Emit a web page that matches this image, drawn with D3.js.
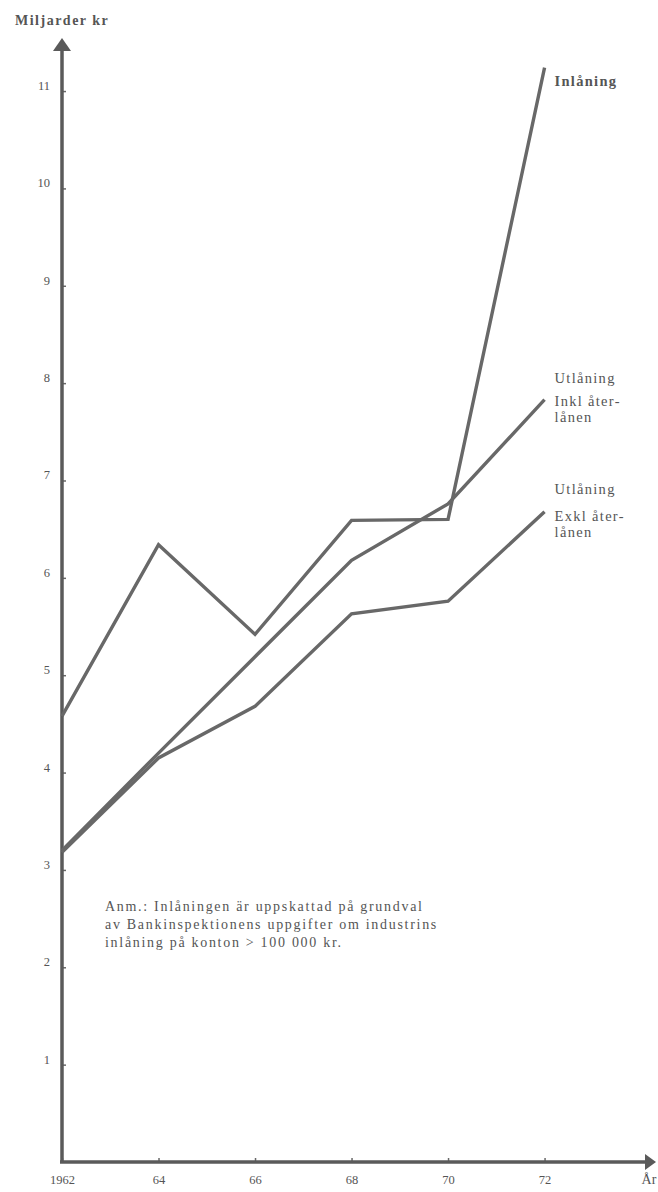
<!DOCTYPE html>
<head>
  <meta charset="utf-8">
  <script src="https://d3js.org/d3.v7.min.js"></script>
  <style>
    body { margin: 0; background: #fff; }
    svg { width: 658px; height: 1192px; display: block; }
    text { font-family: 'Liberation Serif', 'DejaVu Serif', serif; fill: #555; }
  </style>
</head>

<body>
  <svg></svg>
  <script>
    // data (miljarder kr)
    var years = [1962, 1964, 1966, 1968, 1970, 1972];
    var inlaning = [4.58, 6.34, 5.42, 6.59, 6.60, 11.24];
    var utlaningInkl = [3.20, 4.20, 5.19, 6.18, 6.76, 7.83];
    var utlaningExkl = [3.18, 4.15, 4.68, 5.63, 5.76, 6.68];
    var yTicks = [1, 2, 3, 4, 5, 6, 7, 8, 9, 10, 11];
    var xTicks = [1962, 1964, 1966, 1968, 1970, 1972];
    var seriesLabels = [
      ['Inlåning'],
      ['Utlåning', 'Inkl åter-', 'lånen'],
      ['Utlåning', 'Exkl åter-', 'lånen']
    ];
    var note = [
      'Anm.: Inlåningen är uppskattad på grundval',
      'av Bankinspektionens uppgifter om industrins',
      'inlåning på konton > 100 000 kr.'
    ];

    var margin = {top: 38, left: 62, right: 1, bottom: 30};
    var width = 658 - margin.left - margin.right;
    var height = 1192 - margin.top - margin.bottom;
    var ink = '#686868';

    var svg = d3.select('svg')
      .append('g')
      .attr('transform', 'translate(' + [margin.left, margin.top] + ')');

    var x = d3.scaleLinear().domain([1962, 1974.33]).range([0, width]);
    var y = d3.scaleLinear().domain([0, 11.545]).range([height, 0]);

    // axes
    var yAxis = svg.append('g')
      .call(d3.axisLeft(y).tickValues(yTicks).tickSize(-4).tickPadding(12));
    yAxis.selectAll('text').attr('dy', '-0.12em').style('font-size', '12.5px');

    var xAxis = svg.append('g')
      .attr('transform', 'translate(0,' + height + ')')
      .call(d3.axisBottom(x).tickValues(xTicks).tickSize(-4).tickPadding(13)
        .tickFormat(function(d) { return d === 1962 ? '1962' : String(d).slice(2); }));
    xAxis.selectAll('text').style('font-size', '12.5px');

    svg.selectAll('.domain').remove();
    svg.selectAll('.tick line').attr('stroke', ink).attr('stroke-width', 1.5);

    svg.append('line')
      .attr('x1', 0).attr('y1', height).attr('x2', 0).attr('y2', 10)
      .attr('stroke', '#5a5a5a').attr('stroke-width', 3.5);
    svg.append('path')
      .attr('d', 'M-9,13L0,0L9,13Z')
      .attr('fill', '#5a5a5a');
    svg.append('line')
      .attr('x1', -2).attr('y1', height).attr('x2', width - 10).attr('y2', height)
      .attr('stroke', '#5a5a5a').attr('stroke-width', 3.5);
    svg.append('path')
      .attr('d', 'M' + (width - 12) + ',' + (height - 8) + 'L' + (width - 1) + ',' + height +
        'L' + (width - 12) + ',' + (height + 8) + 'Z')
      .attr('fill', '#5a5a5a');

    svg.append('text')
      .attr('x', -47).attr('y', -13)
      .style('font-size', '14px').style('font-weight', 'bold').style('letter-spacing', '1.5px')
      .text('Miljarder kr');

    svg.append('text')
      .attr('x', width - 8).attr('y', height + 22)
      .attr('text-anchor', 'middle')
      .style('font-size', '14px')
      .text('År');

    // lines
    var line = d3.line()
      .x(function(d, i) { return x(years[i]); })
      .y(function(d) { return y(d); });

    var series = [inlaning, utlaningInkl, utlaningExkl];
    svg.selectAll('path.series')
      .data(series).enter().append('path')
      .classed('series', true)
      .attr('d', line)
      .attr('fill', 'none')
      .attr('stroke', ink)
      .attr('stroke-width', 3.4)
      .attr('stroke-linejoin', 'miter');

    // end labels
    var offsets = [[18], [-17, 6, 22], [-18, 9, 25]];
    series.forEach(function(s, k) {
      var lx = x(years[years.length - 1]) + 10;
      var ly = y(s[s.length - 1]);
      seriesLabels[k].forEach(function(t, j) {
        svg.append('text')
          .attr('x', lx).attr('y', ly + offsets[k][j])
          .style('font-size', '14.5px')
          .style('letter-spacing', '1.3px')
          .style('font-weight', k === 0 ? 'bold' : 'normal')
          .text(t);
      });
    });

    // note
    svg.append('g').selectAll('text')
      .data(note).enter().append('text')
      .attr('x', x(1962) + 43)
      .attr('y', function(d, i) { return y(2.58) + i * 18; })
      .style('font-size', '14px')
      .style('letter-spacing', '1.7px')
      .text(function(d) { return d; });
  </script>
</body>
